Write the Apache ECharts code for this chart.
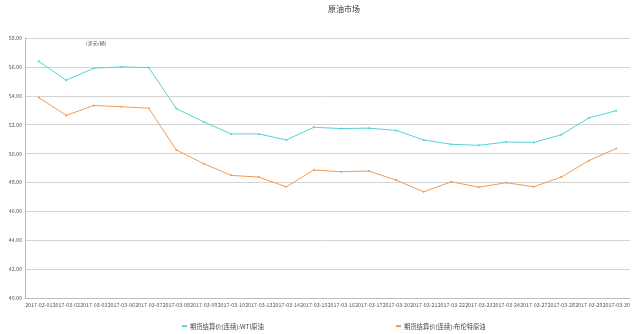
<!DOCTYPE html>
<html><head><meta charset="utf-8">
<script src="https://cdn.jsdelivr.net/npm/echarts@6/dist/echarts.min.js"></script>
<style>html,body{margin:0;padding:0;background:#fff}#c{width:640px;height:334px}</style>
</head><body><div id="c"></div>
<script>
const categories = ['2017-03-01','2017-03-02','2017-03-03','2017-03-06','2017-03-07','2017-03-08','2017-03-09','2017-03-10','2017-03-13','2017-03-14','2017-03-15','2017-03-16','2017-03-17','2017-03-20','2017-03-21','2017-03-22','2017-03-23','2017-03-24','2017-03-27','2017-03-28','2017-03-29','2017-03-30'];
const wti = [56.39,55.08,55.91,56.00,55.95,53.12,52.19,51.36,51.36,50.94,51.82,51.73,51.76,51.60,50.94,50.64,50.57,50.80,50.77,51.30,52.46,52.97];
const brent = [53.88,52.64,53.33,53.24,53.14,50.25,49.30,48.49,48.37,47.70,48.86,48.74,48.79,48.16,47.35,48.05,47.67,47.98,47.70,48.37,49.51,50.35];
const seriesNames = ['期货结算价(连续):WTI原油','期货结算价(连续):布伦特原油'];
const titleText = '原油市场';
const unitText = '(美元/桶)';

const chart = echarts.init(document.getElementById('c'));
const font = '"Noto Sans CJK SC", sans-serif';
chart.setOption({
  animation: false,
  textStyle: {fontFamily: font},
  title: {text: titleText, left: 339, top: 0, textAlign: 'center',
    textStyle: {fontSize: 8, fontWeight: 'normal', color: '#333', fontFamily: font}},
  graphic: [{type: 'text', left: 86, top: 41, style: {text: unitText, fontSize: 5, fill: '#555', fontFamily: font}}],
  legend: [
    {data: [seriesNames[0]], left: 177, top: 318, itemWidth: 5, itemHeight: 2, icon: 'rect', itemGap: 3,
      textStyle: {fontSize: 6.3, color: '#444', fontFamily: font, padding: [0,0,0,-2]}},
    {data: [seriesNames[1]], left: 391, top: 318, itemWidth: 5, itemHeight: 2, icon: 'rect', itemGap: 3,
      textStyle: {fontSize: 6.3, color: '#444', fontFamily: font, padding: [0,0,0,-2]}}
  ],
  grid: {left: 25, right: 10, top: 38, bottom: 36, containLabel: false},
  xAxis: {type: 'category', data: categories, boundaryGap: true,
    axisLine: {lineStyle: {color: '#bbb'}}, axisTick: {show: false},
    axisLabel: {interval: 0, fontSize: 5.3, color: '#555', margin: 4, fontFamily: font}},
  yAxis: {type: 'value', min: 40, max: 58, interval: 2,
    axisLine: {show: true, lineStyle: {color: '#bbb'}}, axisTick: {show: false},
    splitLine: {lineStyle: {color: '#d4d4d4', width: 1}},
    axisLabel: {fontSize: 5.3, color: '#555', margin: 3, formatter: v => v.toFixed(2), fontFamily: font}},
  series: [
    {name: seriesNames[0], type: 'line', data: wti, symbol: 'circle', symbolSize: 2,
      itemStyle: {color: '#55d2d8'}, lineStyle: {width: 1, color: '#55d2d8'}},
    {name: seriesNames[1], type: 'line', data: brent, symbol: 'circle', symbolSize: 2,
      itemStyle: {color: '#f29a52'}, lineStyle: {width: 1, color: '#f29a52'}}
  ]
});
</script></body></html>
